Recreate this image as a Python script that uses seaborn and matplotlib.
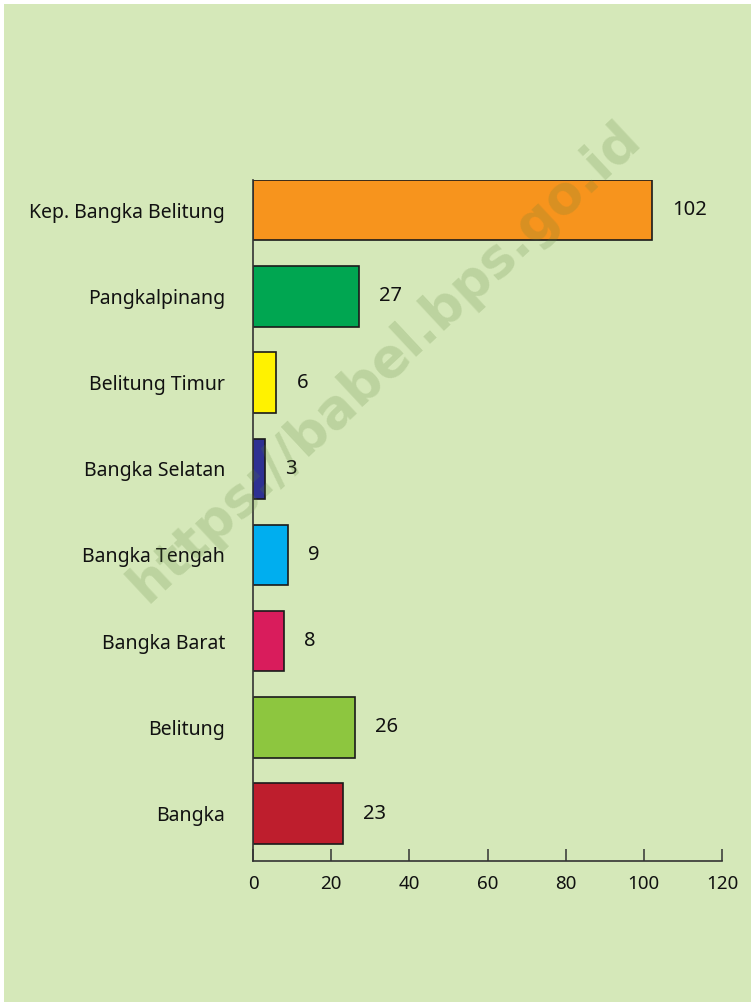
import numpy as np
import pandas as pd
import seaborn as sns
import matplotlib.pyplot as plt
from matplotlib.patches import Rectangle

regions = ['Kep. Bangka Belitung', 'Pangkalpinang', 'Belitung Timur', 'Bangka Selatan',
           'Bangka Tengah', 'Bangka Barat', 'Belitung', 'Bangka']
values = [102, 27, 6, 3, 9, 8, 26, 23]
bar_colors = ['#f7941d', '#00a651', '#fff200', '#2e3192',
              '#00aeef', '#d91c5c', '#8dc63f', '#be1e2d']
x_ticks = [0, 20, 40, 60, 80, 100, 120]

bg = '#d5e8b9'
df = pd.DataFrame({'region': regions, 'value': values})

sns.set_theme(style='white')
plt.rcParams['font.family'] = ['Noto Sans', 'DejaVu Sans']

fig = plt.figure(figsize=(7.51, 10.02), dpi=100)
fig.patch.set_facecolor('white')
fig.patches.append(Rectangle((4 / 751, 0), 747 / 751, 998 / 1002, transform=fig.transFigure,
                             facecolor=bg, edgecolor='none', zorder=-10))

ax = fig.add_axes([253 / 751, 1 - 861 / 1002, (722 - 253) / 751, (861 - 180) / 1002])
ax.set_facecolor('none')

sns.barplot(data=df, x='value', y='region', hue='region', palette=bar_colors, legend=False,
            width=0.7, saturation=1, edgecolor='#1a1a1a', linewidth=1.2, ax=ax)

for i, v in enumerate(values):
    ax.annotate(str(v), (v, i), xytext=(14.5, 0), textcoords='offset points',
                ha='left', va='center', fontsize=14.5, color='#111111')

ax.set_xlim(0, 120)
ax.set_ylim(7.55, -0.35)
ax.set_xticks(x_ticks)
ax.set_xticklabels([str(t) for t in x_ticks], fontsize=13.5, color='#111111')
ax.set_xlabel('')
ax.set_ylabel('')
ax.tick_params(axis='x', direction='in', length=9, width=1.1, color='#333333', pad=10, bottom=True)
ax.tick_params(axis='y', length=0, pad=20, labelsize=14, labelcolor='#111111')
for t in ax.get_yticklabels():
    t.set_ha('right')

for s in ['top', 'right']:
    ax.spines[s].set_visible(False)
for s in ['left', 'bottom']:
    ax.spines[s].set_color('#333333')
    ax.spines[s].set_linewidth(1.2)

fig.text(385 / 751, 1 - 362 / 1002, 'https://babel.bps.go.id', rotation=43,
         ha='center', va='center', fontsize=38, fontweight='bold', family='DejaVu Sans',
         color='#5a8038', alpha=0.2, zorder=20)

fig.savefig('out.png', dpi=100, facecolor=fig.get_facecolor())
